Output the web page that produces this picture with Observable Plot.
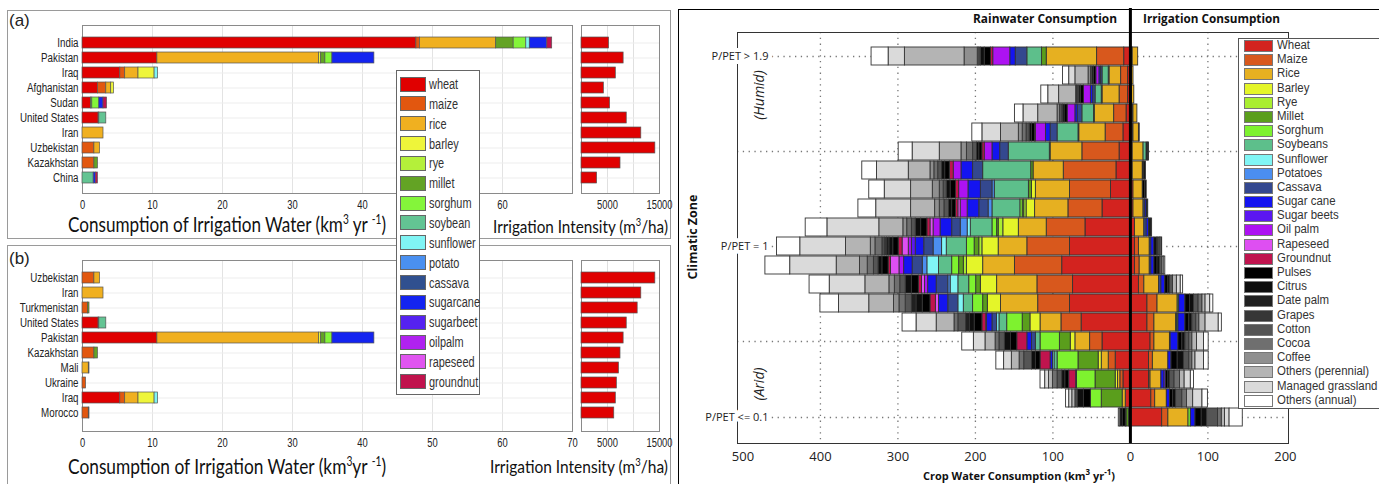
<!DOCTYPE html>
<html><head><meta charset="utf-8">
<script src="https://cdn.jsdelivr.net/npm/d3@7"></script>
<script src="https://cdn.jsdelivr.net/npm/@observablehq/plot@0.6"></script>
<style>
body{margin:0;background:#fff;}
#root{position:relative;width:1379px;height:484px;overflow:hidden;font-family:"Liberation Sans",Arial,sans-serif;}
#root svg{position:absolute;overflow:visible;}
</style></head><body><div id="root"></div>
<script>
// ---------- Left figure data (km3/yr) ----------
const leftCrops = ["wheat","maize","rice","barley","rye","millet","sorghum","soybean","sunflower","potato","cassava","sugarcane","sugarbeet","oilpalm","rapeseed","groundnut"];
const leftColors = ["#e00000","#e2570f","#f0b020","#eef53a","#b4f03a","#63a324","#84f53a","#63c493","#80f4f4","#4a90f0","#30508f","#1424f0","#5522f0","#b022f0","#e055f0","#c0134d"];
const countries = ["India","Pakistan","Iraq","Afghanistan","Sudan","United States","Iran","Uzbekistan","Kazakhstan","China","Turkmenistan","Mali","Ukraine","Morocco"];
const cropUse = [
  [47.7,0.5,10.9,0,0,2.5,1.8,0,0.5,0,0,2.5,0,0,0,0.7],
  [10.7,0,23.1,0.3,0,0.6,1.0,0,0,0,0,6.0,0,0,0,0],
  [5.4,0.7,1.9,2.3,0,0,0,0,0.5,0,0,0,0,0,0,0],
  [2.2,1.2,0.7,0.4,0,0,0,0,0,0,0,0,0,0,0,0],
  [1.2,0,0,0,0,0.2,1.0,0,0,0,0,0.6,0,0,0,0.5],
  [2.3,0,0,0,0,0.1,0,1.0,0,0,0,0,0,0,0,0],
  [0,0,3.0,0,0,0,0,0,0,0,0,0,0,0,0,0],
  [0,1.7,0.8,0,0,0,0,0,0,0,0,0,0,0,0,0],
  [0,1.7,0,0,0,0.5,0,0,0,0,0,0,0,0,0,0],
  [0,0,0,0,0,0,0,1.6,0,0,0,0.3,0,0,0,0.3],
  [0,0.8,0,0,0,0.2,0,0,0,0,0,0,0,0,0,0],
  [0,0,0.9,0,0,0.1,0,0,0,0,0,0,0,0,0,0],
  [0,0.5,0,0,0,0,0,0,0,0,0,0,0,0,0,0],
  [0,0.9,0,0,0,0.1,0,0,0,0,0,0,0,0,0,0]
];
const intensity = [5300,8100,6600,4300,5500,8700,11500,14200,7500,3000,10800,7200,6800,6300]; // m3/ha
const countriesA = ["India","Pakistan","Iraq","Afghanistan","Sudan","United States","Iran","Uzbekistan","Kazakhstan","China"];
const countriesB = ["Uzbekistan","Iran","Turkmenistan","United States","Pakistan","Kazakhstan","Mali","Ukraine","Iraq","Morocco"];
const consTicksA = [0,10,20,30,40,60];
const consTicksB = [0,10,20,30,40,50,60,70];
const consGrid = [10,20,30,40,50,60];
const intensityTicks = [5000,15000];

// ---------- Right figure data (km3/yr) ----------
const crops = ["Wheat","Maize","Rice","Barley","Rye","Millet","Sorghum","Soybeans","Sunflower","Potatoes","Cassava","Sugar cane","Sugar beets","Oil palm","Rapeseed","Groundnut","Pulses","Citrus","Date palm","Grapes","Cotton","Cocoa","Coffee","Others (perennial)","Managed grassland","Others (annual)"];
const cropColors = ["#d3231f","#d8581d","#e6b021","#e4f529","#aaee30","#5a9e1c","#7ef22f","#5dbf8b","#80f5f5","#4b8ef0","#34488f","#1414f0","#5b17f2","#ad12f2","#de4ff2","#c0144e","#000000","#0e0e0e","#202020","#363636","#555555","#6f6f6f","#8f8f8f","#b4b4b4","#dadada","#ffffff"];
const zones = ["P/PET > 1.9","1.8-1.9","1.7-1.8","1.6-1.7","1.5-1.6","1.4-1.5","1.3-1.4","1.2-1.3","1.1-1.2","1.0-1.1","P/PET = 1","0.8-0.9","0.7-0.8","0.6-0.7","0.5-0.6","0.4-0.5","0.3-0.4","0.2-0.3","0.1-0.2","P/PET <= 0.1"];
const zoneTicks = ["P/PET > 1.9","P/PET = 1","P/PET <= 0.1"];
const zoneGrid = ["P/PET > 1.9","1.4-1.5","P/PET = 1","0.4-0.5","P/PET <= 0.1"];
const rainwater = [
  [8,35,65,0,0,6,0,19,0,0,15,7,0,22,0,3,8,5,0,0,2,2,17,77,21,22],
  [3,9,15,0,0,1,0,8,0,0,2,2,0,4,0,0,3,2,0,0,2,0,3,17,8,8],
  [3,11,22,0,0,1,0,8,0,0,3,3,0,9,0,0,4,2,0,0,2,1,1,22,14,9],
  [5,16,25,0,0,1,0,15,0,0,6,3,0,10,0,0,4,2,0,0,2,2,3,25,19,11],
  [9,23,34,0,0,1,0,27,0,0,9,6,0,13,0,1,4,3,0,0,4,5,5,23,24,13],
  [14,48,41,0,0,1,0,53,0,0,11,10,0,10,0,3,4,3,0,0,5,8,7,28,35,18],
  [18,68,39,0,0,3,0,62,0,0,13,15,0,10,0,5,6,4,0,0,5,5,5,28,41,19],
  [25,53,44,5,0,4,0,44,0,3,15,16,0,12,0,4,7,5,0,0,4,5,9,28,34,20],
  [36,44,43,11,3,2,3,36,0,5,12,15,0,9,3,3,5,4,0,0,6,6,6,31,45,23],
  [58,50,36,20,6,2,6,28,4,9,11,15,0,9,4,4,8,7,0,0,5,6,5,31,67,28],
  [78,55,37,21,4,6,10,26,6,11,12,11,5,4,8,5,7,5,3,3,3,9,6,32,59,30],
  [88,61,41,21,4,6,9,17,15,6,13,11,0,6,11,3,8,5,0,0,6,8,10,30,60,32],
  [74,46,52,21,0,6,9,14,10,3,15,11,0,4,4,4,9,8,0,0,7,7,7,31,46,26],
  [78,41,48,17,0,6,13,12,7,0,13,12,0,0,4,7,10,8,6,0,8,8,7,32,39,24],
  [63,26,27,13,0,10,20,10,3,0,6,7,0,1,0,5,10,6,5,0,10,5,0,23,26,18],
  [36,16,19,6,0,14,25,6,0,0,5,6,0,0,0,13,8,8,0,0,7,5,0,13,15,15],
  [19,9,9,4,0,26,27,4,2,0,0,3,0,0,0,13,6,5,0,0,10,6,0,10,10,10],
  [9,4,3,3,0,26,24,0,0,0,0,1,0,0,0,9,5,4,0,0,6,6,0,5,5,6],
  [6,0,4,0,0,27,14,0,0,0,0,0,0,0,0,0,9,8,0,0,3,0,0,4,4,4],
  [2,0,0,0,0,3,1,0,0,0,0,0,0,0,0,0,4,3,0,0,0,0,0,2,0,0]
];
const irrigation = [
  [2,1,7,0,0,0,0,0,0,0,0,0,0,0,0,0,0,0,0,0,0,0,0,0,0,0],
  [2,0,2,0,0,0,0,0,0,0,0,0,0,0,0,0,0,0,0,0,0,0,0,0,0,0],
  [2,0,3,0,0,0,0,0,0,0,0,0,0,0,0,0,0,0,0,0,0,0,0,0,0,0],
  [3,1,5,0,0,0,0,0,0,0,0,0,0,0,0,0,0,0,0,0,0,0,0,0,0,0],
  [3,1,7,0,0,0,0,0,0,0,0,0,0,0,0,0,1,0,0,0,0,0,0,0,0,0],
  [3,0,14,0,0,0,0,4,0,0,0,0,0,0,0,0,2,1,0,0,0,0,0,0,0,0],
  [3,0,13,0,0,0,0,0,0,0,0,0,0,0,0,0,2,2,0,0,0,0,0,0,0,0],
  [4,0,12,0,0,0,0,0,0,0,0,0,0,0,0,0,3,2,0,0,0,0,0,0,0,0],
  [4,0,13,0,0,0,0,0,0,0,2,2,0,0,0,0,2,0,0,0,0,0,0,0,0,0],
  [6,0,12,0,0,0,0,0,0,0,3,3,0,0,0,0,2,2,0,0,0,0,0,0,0,0],
  [6,5,14,0,0,0,0,0,0,0,2,4,0,0,0,0,3,2,0,0,2,0,0,2,1,0],
  [6,6,13,0,0,0,0,0,0,0,2,4,0,0,0,0,4,3,0,0,3,0,0,2,2,0],
  [11,7,19,0,0,0,0,0,0,0,3,5,0,0,0,0,4,2,0,0,4,0,0,5,5,3],
  [22,13,26,0,0,2,0,0,0,0,0,8,0,0,0,0,6,5,0,0,6,5,0,4,6,4],
  [22,9,28,0,1,2,0,0,0,0,0,9,0,0,0,0,5,4,0,0,5,4,0,8,17,4],
  [26,5,20,0,0,1,0,0,0,0,0,10,0,0,0,0,5,4,0,0,5,4,0,6,9,6],
  [24,5,20,0,0,0,0,0,0,0,0,4,0,0,0,0,8,8,0,0,7,4,0,4,11,6],
  [24,2,14,0,0,0,0,0,0,0,0,4,2,0,0,0,3,2,0,0,6,7,0,6,8,4],
  [27,5,15,0,0,0,0,0,0,0,0,4,0,0,0,0,4,4,0,0,8,6,0,8,12,7],
  [41,8,26,0,0,0,3,0,0,0,0,6,0,0,0,0,8,7,0,0,14,5,0,4,6,17]
];
const waterTicks = [-500,-400,-300,-200,-100,0,100,200];
const waterGrid = [-400,-300,-200,-100,100];

// ---------- helpers ----------
const root = document.getElementById("root");
function put(el, x, y) { el.style.position = "absolute"; el.style.left = x + "px"; el.style.top = y + "px"; root.appendChild(el); return el; }
function box(x, y, w, h, css) { const d = document.createElement("div"); d.style.cssText = css; d.style.width = w + "px"; d.style.height = h + "px"; d.style.boxSizing = "border-box"; return put(d, x, y); }
function label(html, x, y, css, fitW, scale) {
  const d = document.createElement("div");
  d.innerHTML = html;
  d.style.cssText = "white-space:nowrap;line-height:1;" + css;
  put(d, x, y);
  let s = scale || 1;
  if (fitW) { const w = d.getBoundingClientRect().width; s = fitW / w; }
  if (s !== 1) { d.style.transformOrigin = "0 0"; d.style.transform = `scaleX(${s})`; }
  return d;
}
function vlabel(html, cx, cy, css) {
  const d = document.createElement("div");
  d.innerHTML = html;
  d.style.cssText = "white-space:nowrap;line-height:1;" + css;
  put(d, cx, cy);
  d.style.transform = "translate(-50%,-50%) rotate(-90deg)";
  return d;
}
function place(svg, x, y) { svg.style.left = x + "px"; svg.style.top = y + "px"; root.appendChild(svg); }
function condense(svg, factor) {
  svg.querySelectorAll("g[aria-label$='tick label'] text").forEach(t => {
    const w = t.getComputedTextLength();
    if (w > 0) { t.setAttribute("textLength", (w * factor).toFixed(2)); t.setAttribute("lengthAdjust", "spacingAndGlyphs"); }
  });
}

const sansCss = `'Liberation Sans',Arial,sans-serif`;

// ---------- Left figure frames ----------
box(7, 10, 664, 229, "border:1px solid #9a9a9a");
box(7, 245, 664, 260, "border:1px solid #9a9a9a");

function consumptionChart(order, height, mTop, mBottom, range, ticks) {
  const rows = [];
  order.forEach(c => {
    const v = cropUse[countries.indexOf(c)];
    v.forEach((val, i) => { if (val > 0) rows.push({country: c, crop: leftCrops[i], value: val}); });
  });
  return Plot.plot({
    width: 580, height, marginLeft: 82, marginRight: 8, marginTop: mTop, marginBottom: mBottom,
    style: {background: "transparent", fontFamily: sansCss, fontSize: "12px", color: "#222"},
    x: {domain: [0, 70]},
    y: {domain: order, range, paddingInner: 0.25, paddingOuter: 0.125},
    color: {domain: leftCrops, range: leftColors},
    marks: [
      Plot.gridX({ticks: consGrid, stroke: "#e3e3e3", strokeOpacity: 1}),
      Plot.gridY({stroke: "#ededed", strokeOpacity: 1}),
      Plot.frame({stroke: "#8a8a8a"}),
      Plot.barX(rows, {x: "value", y: "country", fill: "crop", stroke: "#555", strokeWidth: 0.7}),
      Plot.axisX({ticks, tickSize: 0, tickPadding: 7, label: null, fontSize: 12}),
      Plot.axisY({tickSize: 0, tickPadding: 4, label: null, fontSize: 12.5})
    ]
  });
}
function intensityChart(order, height, mTop, mBottom, range) {
  const rows = order.map(c => ({country: c, value: intensity[countries.indexOf(c)]}));
  return Plot.plot({
    width: 120, height, marginLeft: 21, marginRight: 21, marginTop: mTop, marginBottom: mBottom,
    style: {background: "transparent", fontFamily: sansCss, fontSize: "12px", color: "#222"},
    x: {domain: [0, 15000]},
    y: {domain: order, range, paddingInner: 0.25, paddingOuter: 0.125, axis: null},
    marks: [
      Plot.gridX({ticks: [5000, 10000], stroke: "#e0e0e0", strokeOpacity: 1}),
      Plot.gridY({stroke: "#ededed", strokeOpacity: 1}),
      Plot.frame({stroke: "#8a8a8a"}),
      Plot.barX(rows, {x: "value", y: "country", fill: "#e00000", stroke: "#555", strokeWidth: 0.7}),
      Plot.axisX({ticks: intensityTicks, tickFormat: d => String(d), tickSize: 0, tickPadding: 7, label: null})
    ]
  });
}

const cA = consumptionChart(countriesA, 240, 25, 47, [32.2, 187.8], consTicksA);
const iA = intensityChart(countriesA, 240, 25, 47, [32.2, 187.8]);
const cB = consumptionChart(countriesB, 244, 20, 53, [27.2, 182.8], consTicksB);
const iB = intensityChart(countriesB, 244, 20, 53, [27.2, 182.8]);
place(cA, 0, 0); place(iA, 560, 0); place(cB, 0, 240); place(iB, 560, 240);
[cA, iA, cB, iB].forEach(s => condense(s, 0.78));

label("(a)", 9, 12, `font-size:17px;color:#222;font-family:${sansCss};`);
label("(b)", 9, 250, `font-size:17px;color:#222;font-family:${sansCss};`);
const titleCss = "font-family:Lato,'Open Sans',sans-serif;font-size:22px;color:#111;";
label("Consumption of Irrigation Water (km<sup style='font-size:13px'>3</sup> yr <sup style='font-size:13px'>-1</sup>)", 68, 213, titleCss, 318);
label("Irrigation Intensity (m<sup style='font-size:11px'>3</sup>/ha)", 493, 216, "font-family:Lato,'Open Sans',sans-serif;font-size:18px;color:#111;", 175);
label("Consumption of Irrigation Water (km<sup style='font-size:13px'>3</sup>yr <sup style='font-size:13px'>-1</sup>)", 68, 455, titleCss, 318);
label("Irrigation Intensity (m<sup style='font-size:11px'>3</sup>/ha)", 490, 456, "font-family:Lato,'Open Sans',sans-serif;font-size:18px;color:#111;", 178);

// left legend
box(396, 70, 84, 325, "border:1px solid #666;background:#fff;");
leftCrops.forEach((c, i) => {
  const cy = 84 + i * 19.85;
  box(400, cy - 7.5, 26, 15, `background:${leftColors[i]};border:1px solid #666;`);
  label(c, 429, cy - 7, `font-family:${sansCss};font-size:14px;color:#333;`, null, 0.78);
});

// ---------- Right figure ----------
box(679, 9, 700, 2, "border-top:1.5px solid #000;");
box(678, 9, 2, 480, "border-left:1.5px solid #000;");

const waterRows = [];
zones.forEach((z, i) => {
  crops.forEach((c, j) => {
    if (rainwater[i][j] > 0) waterRows.push({zone: z, crop: c, value: -rainwater[i][j]});
  });
  crops.forEach((c, j) => {
    if (irrigation[i][j] > 0) waterRows.push({zone: z, crop: c, value: irrigation[i][j]});
  });
});

const water = Plot.plot({
  width: 620, height: 484, marginLeft: 57, marginRight: 12, marginTop: 32, marginBottom: 41,
  style: {background: "transparent", fontFamily: "'Open Sans',sans-serif", fontSize: "13px", color: "#222"},
  x: {domain: [-507, 204]},
  y: {domain: zones, range: [40.5, 432.1], paddingInner: 0.03, paddingOuter: 0.015},
  color: {domain: crops, range: cropColors},
  marks: [
    Plot.ruleX(waterGrid, {stroke: "#777", strokeWidth: 1.3, strokeDasharray: "1.3,4.5"}),
    Plot.ruleY(zoneGrid, {stroke: "#777", strokeWidth: 1.3, strokeDasharray: "1.3,4.5"}),
    Plot.barX(waterRows, {x: "value", y: "zone", fill: "crop", stroke: "#333", strokeWidth: 0.9}),
    Plot.frame({stroke: "#333"}),
    Plot.ruleX([0], {stroke: "#000", strokeWidth: 3, insetTop: -24}),
    Plot.axisX({ticks: waterTicks, tickFormat: d => String(Math.abs(d)), tickSize: 0, tickPadding: 8, label: null}),
    Plot.axisY({ticks: zoneTicks, tickSize: 0, tickPadding: 0, dx: 31, label: null, fontSize: 11,
      textStroke: "white", textStrokeWidth: 8})
  ]
});
place(water, 680, 0);

const boldCss = "font-family:'Open Sans',sans-serif;font-weight:bold;color:#111;";
label("Rainwater Consumption", 973, 13, boldCss + "font-size:12px;", 144);
label("Irrigation Consumption", 1143, 13, boldCss + "font-size:12px;", 137);
label("Crop Water Consumption (km<sup style='font-size:8px'>3</sup> yr<sup style='font-size:8px'>-1</sup>)", 923, 468, boldCss + "font-size:11px;", 192);
vlabel("Climatic Zone", 693, 237, boldCss + "font-size:12.5px;");
vlabel("(Humid)", 759, 95, "font-family:'Open Sans',sans-serif;font-style:italic;font-size:14px;color:#222;");
vlabel("(Arid)", 759, 384, "font-family:'Open Sans',sans-serif;font-style:italic;font-size:14px;color:#222;");

// right legend
box(1238, 38, 150, 371, "border:1px solid #555;background:#fff;");
crops.forEach((c, i) => {
  const cy = 46 + i * 14.19;
  box(1244, cy - 6, 29, 12, `background:${cropColors[i]};border:1px solid #777;`);
  label(c, 1277, cy - 7, `font-family:${sansCss};font-size:12.3px;color:#333;`, null, 0.93);
});
</script>
</body></html>
